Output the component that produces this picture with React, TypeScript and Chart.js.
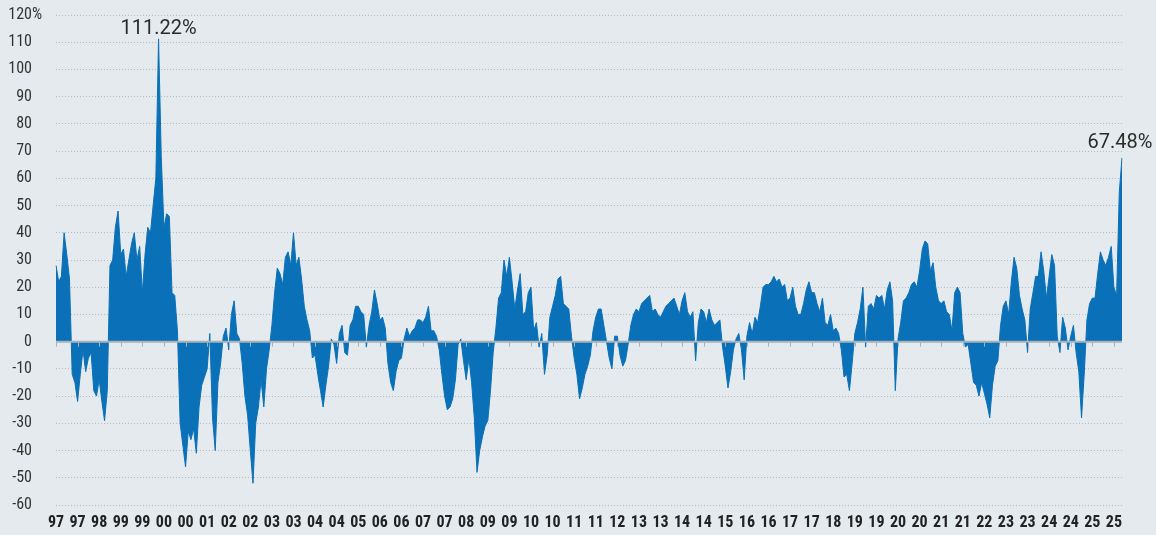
import { useEffect, useRef } from 'react';
import { Chart, registerables } from 'chart.js';

Chart.register(...registerables);

// Axis tick labels (two-digit years), one every 8 data points
const tickLabels = [
  '97', '97', '98', '99', '99', '00', '00', '01', '02', '02',
  '03', '03', '04', '04', '05', '06', '06', '07', '07', '08',
  '09', '09', '10', '10', '11', '11', '12', '13', '13', '14',
  '14', '15', '16', '16', '17', '17', '18', '19', '19', '20',
  '20', '21', '21', '22', '23', '23', '24', '24', '25', '25',
];

const POINTS_PER_TICK = 8;

// Rolling return (%), 8 values per tick interval
const returns = [
  28, 22, 24, 40, 32, 23, -12, -15,
  -22, -12, -3, -11, -6, -4, -18, -20,
  -14, -22, -29, -18, 28, 30, 42, 48,
  32, 34, 24, 30, 36, 40, 30, 35,
  18, 32, 42, 40, 50, 60, 111.22, 68,
  42, 47, 46, 18, 17, 4, -30, -38,
  -46, -33, -36, -32, -41, -24, -16, -13,
  -10, 3, -28, -40, -15, -8, 2, 5,
  -3, 10, 15, 3, 1, -8, -20, -27,
  -40, -52, -30, -24, -14, -24, -10, -3,
  6, 18, 27, 25, 21, 31, 33, 28,
  40, 28, 31, 23, 13, 8, 4, -6,
  -5, -12, -18, -24, -16, -9, 1, -1,
  -8, 3, 6, -4, -5, 6, 8, 13,
  13, 11, 10, -2, 6, 11, 19, 14,
  8, 9, 5, -8, -15, -18, -11, -7,
  -6, 1, 5, 2, 4, 5, 8, 8,
  7, 9, 13, 4, 4, 2, -3, -12,
  -20, -25, -24, -21, -14, -1, 1, -7,
  -14, -6, -15, -28, -48, -40, -35, -31,
  -29, -18, -4, 5, 16, 18, 30, 24,
  31, 22, 12, 19, 25, 10, 11, 18,
  20, 4, 7, -2, 3, -12, -5, 9,
  13, 17, 23, 24, 14, 13, 12, 2,
  -6, -12, -21, -17, -12, -9, -5, 4,
  9, 12, 12, 6, 0, -6, -10, 2,
  2, -5, -9, -7, -1, 6, 10, 12,
  11, 14, 15, 16, 17, 11, 12, 10,
  9, 11, 13, 14, 15, 16, 13, 10,
  15, 18, 11, 9, 11, -7, 7, 12,
  11, 7, 12, 8, 6, 7, 8, -2,
  -9, -17, -11, -3, 1, 3, -3, -14,
  2, 7, 3, 9, 7, 13, 20, 21,
  21, 22, 24, 22, 23, 20, 21, 15,
  16, 20, 13, 10, 10, 14, 19, 22,
  18, 18, 14, 11, 16, 7, 6, 10,
  4, 5, 3, -3, -13, -12, -18, -8,
  3, 7, 12, 20, -2, 13, 14, 12,
  17, 16, 17, 12, 19, 22, 15, -18,
  1, 7, 15, 16, 18, 21, 22, 20,
  26, 34, 37, 36, 26, 29, 20, 15,
  14, 15, 11, 10, 4, 18, 20, 18,
  3, -2, -1, -8, -15, -16, -20, -15,
  -19, -23, -28, -16, -9, -7, 6, 13,
  15, 10, 22, 31, 27, 17, 12, 8,
  -4, 12, 18, 24, 24, 33, 26, 16,
  24, 32, 28, 2, -4, 9, 5, -3,
  2, 6, -4, -11, -28, -12, 8, 14,
  16, 16, 25, 33, 30, 28, 31, 35,
  20, 17, 55, 67.48,
];

const categories = returns.map((_, i) => tickLabels[Math.floor(i / POINTS_PER_TICK)]);

const Y_MIN = -60;
const Y_MAX = 120;
const Y_STEP = 10;

const peakText = '111.22%';
const lastText = '67.48%';

const BG = '#e4eaed';
const BLUE = '#0a71b8';
const GRID = '#b3bcc2';
const ZERO = '#a9b2b8';
const AXIS_FONT = '"Roboto Condensed", "Liberation Sans Narrow", "Arial Narrow", Roboto, sans-serif';
const NOTE_FONT = 'Roboto, "Open Sans", sans-serif';
const Y_PAD = 24;

export default function App() {
  const ref = useRef<HTMLCanvasElement>(null);

  useEffect(() => {
    const canvas = ref.current;
    if (!canvas) return;

    const peakIndex = returns.indexOf(Math.max(...returns));
    const notes = [
      { index: peakIndex, text: peakText, dx: 0, dy: -5 },
      { index: returns.length - 1, text: lastText, dx: -2, dy: -10 },
    ];

    const overlay = {
      id: 'overlay',
      afterDatasetsDraw(chart: any) {
        const { ctx, chartArea, scales } = chart;
        const xs = scales.x;
        const ys = scales.y;
        const y0 = ys.getPixelForValue(0);
        ctx.save();
        ctx.strokeStyle = ZERO;
        ctx.lineWidth = 2;
        ctx.beginPath();
        ctx.moveTo(chartArea.left, y0);
        ctx.lineTo(chartArea.right, y0);
        ctx.stroke();
        ctx.lineWidth = 1;
        for (let t = 0; t < tickLabels.length; t++) {
          const px = Math.round(xs.getPixelForValue(t * POINTS_PER_TICK)) + 0.5;
          ctx.beginPath();
          ctx.moveTo(px, y0 + 1);
          ctx.lineTo(px, y0 + 5);
          ctx.stroke();
        }
        ctx.restore();
      },
      afterDraw(chart: any) {
        const { ctx, chartArea, scales } = chart;
        const xs = scales.x;
        const ys = scales.y;
        ctx.save();
        ctx.font = `16px ${AXIS_FONT}`;
        ctx.fillStyle = '#333';
        ctx.textAlign = 'left';
        ctx.textBaseline = 'middle';
        ctx.fillText('%', chartArea.left - Y_PAD, ys.getPixelForValue(Y_MAX));
        ctx.font = `20px ${NOTE_FONT}`;
        ctx.fillStyle = '#2b2b2b';
        ctx.textAlign = 'center';
        ctx.textBaseline = 'alphabetic';
        for (const n of notes) {
          const px = xs.getPixelForValue(n.index);
          const py = ys.getPixelForValue(returns[n.index]);
          ctx.fillText(n.text, px + n.dx, py + n.dy);
        }
        ctx.restore();
      },
    };

    const chart = new Chart(canvas, {
      type: 'line',
      data: {
        labels: categories,
        datasets: [
          {
            data: returns,
            fill: 'origin',
            backgroundColor: BLUE,
            borderColor: BLUE,
            borderWidth: 1,
            pointRadius: 0,
            tension: 0,
          },
        ],
      },
      options: {
        responsive: false,
        animation: false,
        devicePixelRatio: 1,
        layout: { padding: { left: 0, right: 34, top: 15, bottom: 0 } },
        plugins: { legend: { display: false }, tooltip: { enabled: false } },
        scales: {
          x: {
            type: 'category',
            offset: false,
            grid: { display: false, drawTicks: false },
            border: { display: false },
            ticks: {
              autoSkip: false,
              maxRotation: 0,
              minRotation: 0,
              padding: 8,
              color: '#222',
              font: { family: AXIS_FONT, size: 16, weight: 'bold' },
              callback: (_v: any, idx: number) =>
                idx % POINTS_PER_TICK === 0 ? tickLabels[idx / POINTS_PER_TICK] : null,
            },
            afterFit: (s: any) => {
              s.height = 30;
              s.paddingLeft = 0;
              s.paddingRight = 0;
            },
          },
          y: {
            min: Y_MIN,
            max: Y_MAX,
            grid: {
              drawTicks: false,
              color: (c: any) => (c.tick && c.tick.value === 0 ? 'rgba(0,0,0,0)' : GRID),
              lineWidth: 1,
            },
            border: { display: false, dash: [1, 2] },
            ticks: {
              stepSize: Y_STEP,
              padding: Y_PAD,
              color: '#333',
              font: { family: AXIS_FONT, size: 16 },
              callback: (v: any) => String(v),
            },
            afterFit: (s: any) => {
              s.width = 56;
              s.paddingTop = 0;
              s.paddingBottom = 0;
            },
          },
        },
      },
      plugins: [overlay],
    } as any);

    return () => chart.destroy();
  }, []);

  return (
    <div
      style={{
        position: 'fixed',
        left: 0,
        top: 0,
        width: 1156,
        height: 535,
        background: BG,
      }}
    >
      <canvas ref={ref} width={1156} height={535} style={{ display: 'block' }} />
    </div>
  );
}
